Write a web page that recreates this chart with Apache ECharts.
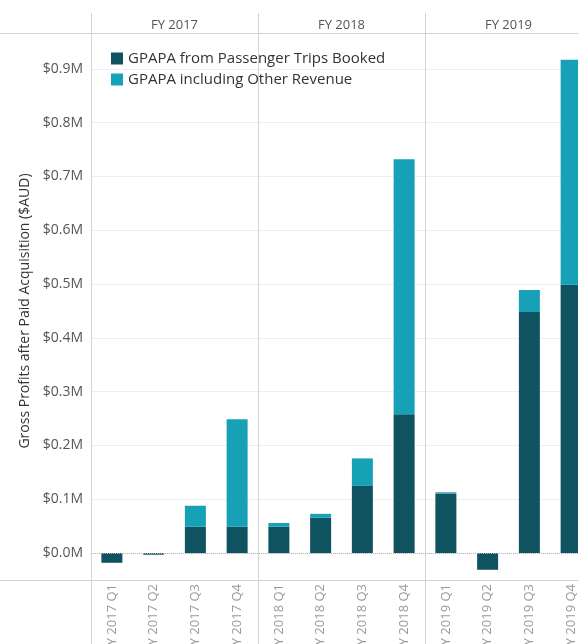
<!DOCTYPE html>
<html>
<head>
<meta charset="utf-8">
<script src="https://cdn.jsdelivr.net/npm/echarts@6/dist/echarts.min.js"></script>
<style>
html,body{margin:0;padding:0;overflow:hidden;background:#fff;}
#chart{width:600px;height:644px;}
</style>
</head>
<body>
<div id="chart"></div>
<script>
const quarters = ['FY 2017 Q1','FY 2017 Q2','FY 2017 Q3','FY 2017 Q4','FY 2018 Q1','FY 2018 Q2','FY 2018 Q3','FY 2018 Q4','FY 2019 Q1','FY 2019 Q2','FY 2019 Q3','FY 2019 Q4'];
const fiscalYears = ['FY 2017','FY 2018','FY 2019'];
// $M
const passengerTrips = [-0.018,-0.003,0.049,0.049,0.049,0.066,0.125,0.258,0.111,-0.031,0.448,0.499];
const otherRevenueAdded = [0,0,0.039,0.200,0.007,0.007,0.051,0.474,0.002,0,0.041,0.418];
const seriesNames = ['GPAPA from Passenger Trips Booked','GPAPA including Other Revenue'];

const font = '"Open Sans", "Noto Sans", sans-serif';
const divider = '#d3d3d3';
const everyYear = (i) => i % 4 === 0;

const chart = echarts.init(document.getElementById('chart'));
chart.setOption({
  animation: false,
  textStyle: {fontFamily: font},
  grid: {left: 91, right: 8, top: 42, bottom: 64, outerBoundsMode: 'none', containLabel: false},
  legend: {
    orient: 'vertical', left: 106, top: 46, icon: 'rect',
    itemWidth: 12, itemHeight: 12, itemGap: 6,
    textStyle: {fontSize: 15, color: '#333', fontFamily: font, lineHeight: 15},
    data: seriesNames
  },
  graphic: [
    {type: 'line', shape: {x1: 0, y1: 33.5, x2: 600, y2: 33.5}, style: {stroke: divider, lineWidth: 1}, silent: true},
    {type: 'line', shape: {x1: 0, y1: 580.5, x2: 600, y2: 580.5}, style: {stroke: divider, lineWidth: 1}, silent: true}
  ],
  xAxis: [
    {
      type: 'category', data: quarters, position: 'bottom', boundaryGap: true,
      axisLine: {show: true, onZero: false, lineStyle: {color: divider}},
      axisTick: {show: true, interval: everyYear, length: 70, lineStyle: {color: divider}},
      splitLine: {show: true, interval: everyYear, lineStyle: {color: divider}},
      axisLabel: {rotate: 90, interval: 0, fontSize: 13, color: '#9a9a9a', margin: 4, fontFamily: font}
    },
    {
      type: 'category', data: fiscalYears, position: 'top', boundaryGap: true,
      axisLine: {show: false, onZero: false},
      axisTick: {show: true, length: 29, lineStyle: {color: divider}},
      axisLabel: {fontSize: 13, color: '#555', margin: 10, fontFamily: font}
    }
  ],
  yAxis: {
    type: 'value', min: -0.05, max: 0.95, interval: 0.05,
    name: 'Gross Profits after Paid Acquisition ($AUD)',
    nameLocation: 'middle', nameGap: 58, nameRotate: 90,
    nameTextStyle: {fontSize: 14, color: '#333', fontFamily: font},
    axisLine: {show: false}, axisTick: {show: false},
    axisLabel: {
      fontSize: 14, color: '#555', margin: 8, fontFamily: font,
      formatter: (v) => {
        const k = Math.round(v * 100);
        if (k < 0 || k % 10 !== 0) return '';
        return '$' + (k / 100).toFixed(1) + 'M';
      }
    },
    splitLine: {show: true, lineStyle: {color: ['rgba(0,0,0,0)', '#efefef']}}
  },
  series: [
    {
      name: seriesNames[0], type: 'bar', stack: 'gpapa', data: passengerTrips,
      barWidth: 21, itemStyle: {color: '#0f5360'},
      markLine: {
        silent: true, symbol: 'none', label: {show: false},
        lineStyle: {color: '#b5b5b5', type: 'dotted', width: 1},
        data: [{yAxis: 0}]
      }
    },
    {
      name: seriesNames[1], type: 'bar', stack: 'gpapa', data: otherRevenueAdded,
      barWidth: 21, itemStyle: {color: '#17a1b6'}
    }
  ]
});
</script>
</body>
</html>
